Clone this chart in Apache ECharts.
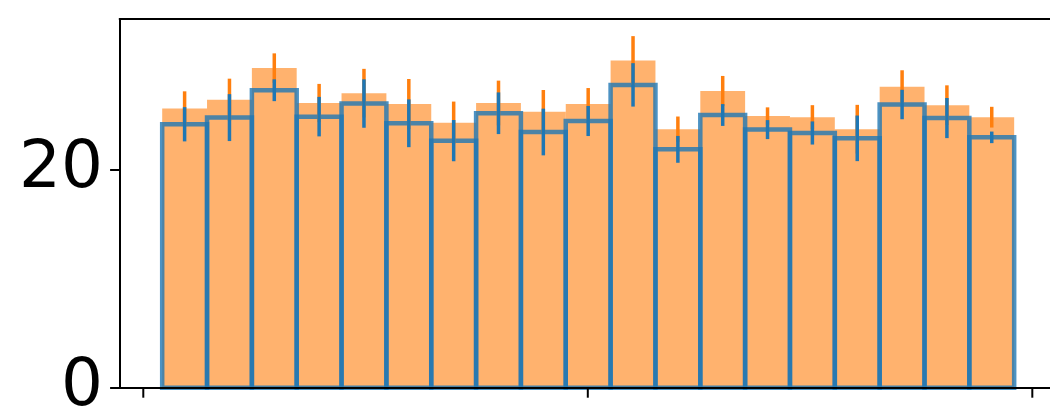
<!DOCTYPE html>
<html>
<head>
<meta charset="utf-8">
<script src="https://cdn.jsdelivr.net/npm/echarts@6/dist/echarts.min.js"></script>
<style>
html,body{margin:0;padding:0;background:#fff;}
#chart{width:1050px;height:416px;}
</style>
</head>
<body>
<div id="chart"></div>
<script>
// Data
const binEdges = [0.0425, 0.1434, 0.2443, 0.3451, 0.4460, 0.5469, 0.6478, 0.7487, 0.8495, 0.9504,
                  1.0513, 1.1522, 1.2531, 1.3539, 1.4548, 1.5557, 1.6566, 1.7575, 1.8583, 1.9592];
const orangeHeights = [25.6, 26.4, 29.3, 26.1, 27.0, 26.0, 24.3, 26.1, 25.3, 26.0,
                       30.0, 23.7, 27.2, 24.9, 24.8, 23.7, 27.6, 25.9, 24.8];
const orangeErrors  = [1.57, 1.93, 1.35, 1.75, 2.23, 2.30, 1.93, 2.05, 1.99, 1.47,
                       2.23, 1.16, 1.38, 0.80, 1.10, 2.23, 1.50, 1.82, 0.95];
const blueHeights   = [24.15, 24.76, 27.27, 24.85, 26.05, 24.24, 22.65, 25.16, 23.44, 24.45,
                       27.76, 21.85, 25.00, 23.66, 23.35, 22.86, 25.96, 24.72, 22.95];
const blueErrors    = [1.57, 2.15, 1.00, 1.81, 2.22, 2.19, 1.89, 1.91, 2.14, 1.38,
                       1.99, 1.23, 1.00, 0.87, 1.06, 2.09, 1.35, 1.84, 0.53];
const xTicks = [0, 1, 2];
const yTicks = [0, 20];

const X_MIN = -0.0533, X_MAX = 2.0398, Y_MIN = 0, Y_MAX = 33.8;

const barData = (h) => h.map((v, i) => [binEdges[i], binEdges[i + 1], v]);
const errData = (h, e) => h.map((v, i) => [(binEdges[i] + binEdges[i + 1]) / 2, v - e[i], v + e[i]]);

function rectItem(styleObj) {
  return function (params, api) {
    const p0 = api.coord([api.value(0), api.value(2)]);
    const p1 = api.coord([api.value(1), 0]);
    return {
      type: 'rect',
      shape: { x: p0[0], y: p0[1], width: p1[0] - p0[0], height: p1[1] - p0[1] },
      style: styleObj
    };
  };
}
function errItem(color) {
  return function (params, api) {
    const a = api.coord([api.value(0), api.value(1)]);
    const b = api.coord([api.value(0), api.value(2)]);
    return {
      type: 'line',
      shape: { x1: a[0], y1: a[1], x2: b[0], y2: b[1] },
      style: { stroke: color, lineWidth: 3.5, lineCap: 'butt', fill: null }
    };
  };
}
// x-axis tick marks, placed through the x scale
function tickItem(params, api) {
  const p = api.coord([api.value(0), Y_MIN]);
  return {
    type: 'line',
    shape: { x1: p[0], y1: p[1], x2: p[0], y2: p[1] + 10 },
    style: { stroke: '#000', lineWidth: 2, lineCap: 'butt', fill: null }
  };
}

const chart = echarts.init(document.getElementById('chart'), null, { renderer: 'canvas' });
chart.setOption({
  animation: false,
  backgroundColor: '#fff',
  grid: { left: 119.6, right: 0, top: 19, bottom: 28.3, containLabel: false, outerBoundsMode: 'none' },
  xAxis: [{
    type: 'value', min: X_MIN, max: X_MAX, z: 10,
    axisLine: { show: true, onZero: false, lineStyle: { color: '#000', width: 2 } },
    axisTick: { show: false },
    axisLabel: { show: false },
    splitLine: { show: false }
  }, {
    type: 'value', position: 'top', min: X_MIN, max: X_MAX, z: 10,
    axisLine: { show: true, onZero: false, lineStyle: { color: '#000', width: 2 } },
    axisTick: { show: false }, axisLabel: { show: false }, splitLine: { show: false }
  }],
  yAxis: {
    type: 'value', min: Y_MIN, max: Y_MAX, z: 10,
    axisLine: { show: true, onZero: false, lineStyle: { color: '#000', width: 2 } },
    axisTick: { show: true, customValues: yTicks, length: 9.5, lineStyle: { color: '#000', width: 2 } },
    axisLabel: { show: true, customValues: yTicks, fontFamily: 'DejaVu Sans', fontSize: 66, color: '#000', margin: 16.5 },
    splitLine: { show: false }
  },
  series: [
    { type: 'custom', xAxisIndex: 0, z: 1, data: barData(orangeHeights), encode: { x: [0, 1], y: 2 },
      renderItem: rectItem({ fill: 'rgba(255,127,14,0.6)', stroke: null }) },
    { type: 'custom', xAxisIndex: 0, z: 2, data: barData(blueHeights), encode: { x: [0, 1], y: 2 },
      renderItem: rectItem({ fill: null, stroke: 'rgba(31,119,180,0.8)', lineWidth: 4.5 }) },
    { type: 'custom', xAxisIndex: 0, z: 3, data: errData(orangeHeights, orangeErrors), encode: { x: 0, y: [1, 2] },
      renderItem: errItem('#ff7f0e') },
    { type: 'custom', xAxisIndex: 0, z: 4, data: errData(blueHeights, blueErrors), encode: { x: 0, y: [1, 2] },
      renderItem: errItem('#1f77b4') },
    { type: 'custom', xAxisIndex: 0, z: 5, clip: false, silent: true, data: xTicks.map(v => [v]), encode: { x: 0 },
      renderItem: tickItem }
  ]
});
</script>
</body>
</html>
